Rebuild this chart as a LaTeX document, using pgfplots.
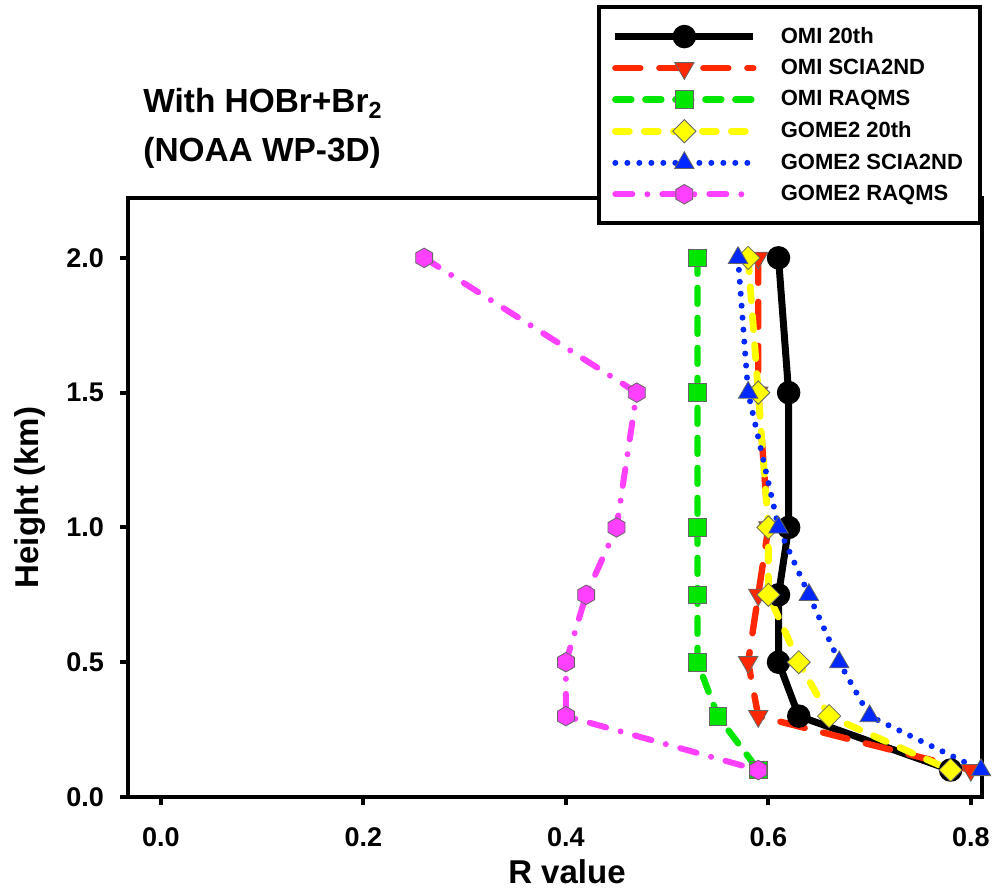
\documentclass[border=0pt]{standalone}
\usepackage{pgfplots}
\pgfplotsset{compat=1.18}
\usepackage{fontspec}
\setmainfont{Liberation Sans}
\definecolor{cred}{RGB}{255,40,0}
\definecolor{cgreen}{RGB}{0,230,0}
\definecolor{cyellow}{RGB}{255,255,0}
\definecolor{cblue}{RGB}{0,40,255}
\definecolor{cmag}{RGB}{255,64,255}
\pgfdeclareplotmark{hexagon*}{%
  \pgfpathmoveto{\pgfpointpolar{90}{\pgfplotmarksize}}%
  \pgfpathlineto{\pgfpointpolar{150}{\pgfplotmarksize}}%
  \pgfpathlineto{\pgfpointpolar{210}{\pgfplotmarksize}}%
  \pgfpathlineto{\pgfpointpolar{270}{\pgfplotmarksize}}%
  \pgfpathlineto{\pgfpointpolar{330}{\pgfplotmarksize}}%
  \pgfpathlineto{\pgfpointpolar{30}{\pgfplotmarksize}}%
  \pgfpathclose\pgfusepathqfillstroke}
\begin{document}
\begin{tikzpicture}
\useasboundingbox (-64pt,-48pt) rectangle (433.5pt,398.5pt);
\begin{axis}[
  name=ax,
  scale only axis, width=427pt, height=299.5pt,
  xmin=-0.0325, xmax=0.811, ymin=0, ymax=2.222,
  xtick={0,0.2,0.4,0.6,0.8}, ytick={0,0.5,1.0,1.5,2.0},
  /pgf/number format/assume math mode=true,
  /pgf/number format/.cd, fixed, fixed zerofill, precision=1, /pgfplots/.cd,
  tick label style={font=\fontsize{13.5}{16}\selectfont\bfseries},
  xticklabel style={yshift=-8pt},
  yticklabel style={xshift=-4.5pt},
  tick align=outside, major tick length=4pt,
  every tick/.style={line width=2pt, black},
  xtick pos=bottom, ytick pos=left,
  axis line style={line width=2pt},
  xlabel={R value}, ylabel={Height (km)},
  label style={font=\fontsize{16.5}{20}\selectfont\bfseries},
  xlabel style={at={(axis description cs:0.514,-0.125)}, anchor=center},
  ylabel style={at={(axis description cs:-0.115,0.5)}, anchor=center},
  legend style={at={(axis description cs:0.549,1.322)}, anchor=north west,
    draw=black, line width=2pt, font=\fontsize{11}{13}\selectfont\bfseries,
    inner xsep=6.5pt, inner ysep=8pt, row sep=2.5pt,
    /tikz/every odd column/.append style={column sep=10pt}},
  legend cell align=left,
  legend image code/.code={\draw[mark repeat=2,mark phase=2] plot coordinates {(0pt,0pt)(34.5pt,0pt)(69pt,0pt)};},
  clip=false,
]
\addplot[black, line width=3.5pt, mark=*, mark size=4.1pt, mark options={solid, fill=black}]
  coordinates {(0.61,2.0)(0.62,1.5)(0.62,1.0)(0.61,0.75)(0.61,0.5)(0.63,0.3)(0.78,0.1)};
\addlegendentry{OMI 20th}
\addplot[cred, line width=3.2pt, line cap=round, dash pattern=on 12.5pt off 9.5pt, mark=triangle*, mark size=5.6pt,
  mark options={solid, rotate=180, fill=cred, draw=black!60, line width=0.4pt}]
  coordinates {(0.59,2.0)(0.59,1.5)(0.60,1.0)(0.59,0.75)(0.58,0.5)(0.59,0.3)(0.80,0.1)};
\addlegendentry{OMI SCIA2ND}
\addplot[cgreen, line width=3.2pt, line cap=round, dash pattern=on 8pt off 7pt, mark=square*, mark size=4.4pt,
  mark options={solid, fill=cgreen, draw=black!60, line width=0.4pt}]
  coordinates {(0.53,2.0)(0.53,1.5)(0.53,1.0)(0.53,0.75)(0.53,0.5)(0.55,0.3)(0.59,0.1)};
\addlegendentry{OMI RAQMS}
\addplot[cyellow, line width=3.4pt, line cap=round, dash pattern=on 7pt off 7.5pt, mark=square*, mark size=4.1pt,
  mark options={solid, rotate=45, fill=cyellow, draw=black!60, line width=0.4pt}]
  coordinates {(0.58,2.0)(0.59,1.5)(0.60,1.0)(0.60,0.75)(0.63,0.5)(0.66,0.3)(0.78,0.1)};
\addlegendentry{GOME2 20th}
\addplot[cblue, line width=3pt, line cap=round, dash pattern=on 0pt off 6pt, mark=triangle*, mark size=5.6pt,
  mark options={solid, fill=cblue, draw=black!60, line width=0.4pt}]
  coordinates {(0.57,2.0)(0.58,1.5)(0.61,1.0)(0.64,0.75)(0.67,0.5)(0.70,0.3)(0.81,0.1)};
\addlegendentry{GOME2 SCIA2ND}
\addplot[cmag, line width=3pt, line cap=round, dash pattern=on 8.5pt off 7.5pt on 0pt off 7.5pt, mark=hexagon*, mark size=4.9pt,
  mark options={solid, fill=cmag, draw=black!60, line width=0.4pt}]
  coordinates {(0.26,2.0)(0.47,1.5)(0.45,1.0)(0.42,0.75)(0.40,0.5)(0.40,0.3)(0.59,0.1)};
\addlegendentry{GOME2 RAQMS}
\end{axis}
\node[anchor=base west, font=\fontsize{16.7}{20}\selectfont\bfseries, inner sep=0pt] at ([xshift=7.5pt,yshift=42.5pt]ax.north west) {With HOBr+Br\textsubscript{2}};
\node[anchor=base west, font=\fontsize{16.7}{20}\selectfont\bfseries, inner sep=0pt] at ([xshift=7.5pt,yshift=18pt]ax.north west) {(NOAA WP-3D)};
\end{tikzpicture}
\end{document}
